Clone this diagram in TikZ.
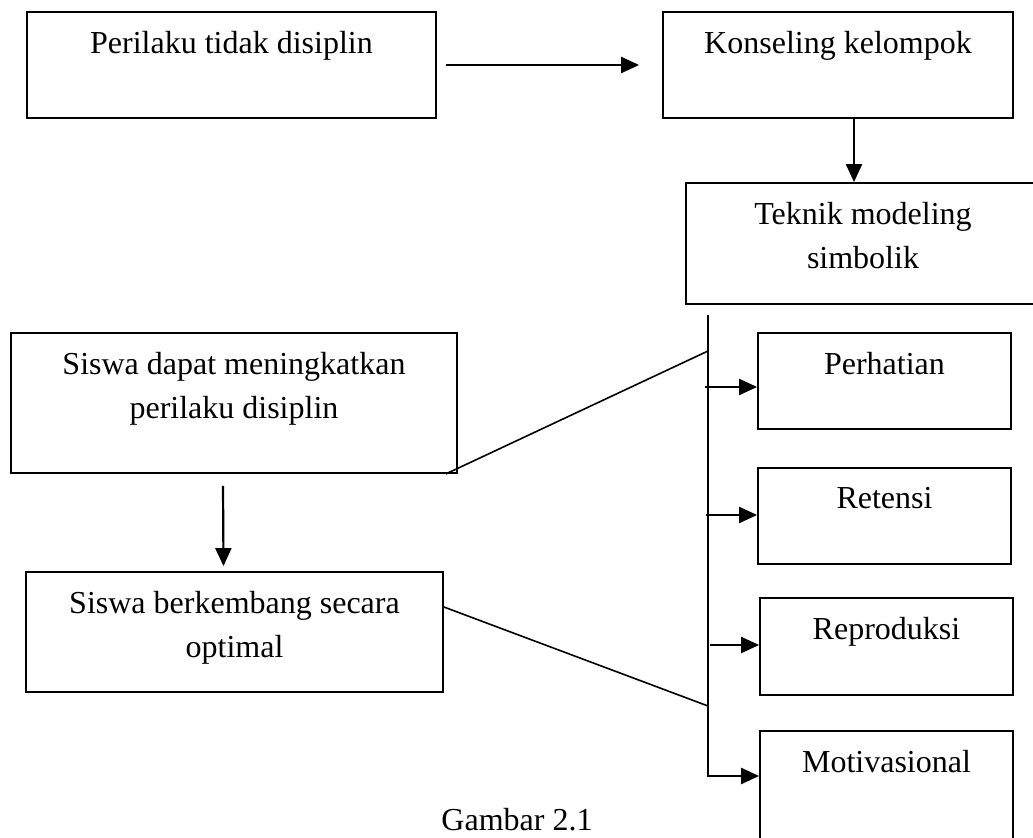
\documentclass[tikz,border=0pt]{standalone}
\usepackage{fontspec}
\setmainfont{Liberation Serif}
\usetikzlibrary{arrows.meta}

\tikzset{
  kotak/.style={draw, line width=0.9pt, inner sep=0pt},
  isi/.style={anchor=north, yshift=-10pt, align=center, inner sep=0pt,
              font=\fontsize{16}{22}\selectfont},
  garis/.style={line width=0.8pt},
  panah/.style={line width=1.1pt, -{Triangle[length=9pt,width=8pt]}}
}

\begin{document}
\begin{tikzpicture}[x=0.5pt, y=-0.5pt]
    \useasboundingbox (0,0) rectangle (1033,838);

    % Baris atas
    \node[kotak, minimum width=204.5pt, minimum height=53pt,
          label={[isi]north:Perilaku tidak disiplin}] (perilaku) at (231.5,65) {};
    \node[kotak, minimum width=175pt, minimum height=53pt,
          label={[isi]north:Konseling kelompok}] (konseling) at (838,65) {};
    \node[kotak, minimum width=177pt, minimum height=60.5pt,
          label={[isi]north:Teknik modeling\\simbolik}] (teknik) at (863,243.5) {};
    \draw[panah] ([xshift=4.5pt]perilaku.east) -- ([xshift=-11.5pt]konseling.west);
    \draw[panah] ([xshift=8pt]konseling.south) -- ([xshift=8pt]konseling.south |- teknik.north);

    % Kotak kiri
    \node[kotak, minimum width=223pt, minimum height=70pt,
          label={[isi]north:Siswa dapat meningkatkan\\perilaku disiplin}] (meningkat) at (234,403) {};
    \node[kotak, minimum width=208.5pt, minimum height=60pt,
          label={[isi]north:Siswa berkembang secara\\optimal}] (berkembang) at (234.5,632) {};
    \draw[panah] ([xshift=-5.5pt,yshift=-6pt]meningkat.south) -- ([xshift=-5.5pt,yshift=2.5pt]berkembang.north);

    % Kotak kanan (komponen modeling)
    \node[kotak, minimum width=126.5pt, minimum height=48pt,
          label={[isi]north:Perhatian}] (perhatian) at (884.5,381) {};
    \node[kotak, minimum width=126.5pt, minimum height=48pt,
          label={[isi]north:Retensi}] (retensi) at (884.5,516) {};
    \node[kotak, minimum width=126.5pt, minimum height=48.5pt,
          label={[isi]north:Reproduksi}] (reproduksi) at (886.5,646.5) {};
    \node[kotak, minimum width=126.5pt, minimum height=59.5pt,
          label={[isi]north:Motivasional}] (motivasi) at (886.5,790.5) {};

    % Garis cabang
    \coordinate (atas) at (708,315);
    \coordinate (bawah) at (708,776);
    \coordinate (j1) at (708,351);
    \coordinate (j2) at (708,706);
    \coordinate (t1) at (705,387);
    \coordinate (t2) at (706,515);
    \coordinate (t3) at (710,645);
    \draw[panah] (atas) -- (bawah) -- (bawah -| motivasi.west);
    \draw[panah] (t1) -- (t1 -| perhatian.west);
    \draw[panah] (t2) -- (t2 -| retensi.west);
    \draw[panah] (t3) -- (t3 -| reproduksi.west);
    \draw[garis] ([xshift=-6pt]meningkat.south east) -- (j1);
    \draw[garis] ([yshift=12.5pt]berkembang.east) -- (j2);

    \node[anchor=base, inner sep=0pt, font=\fontsize{16}{22}\selectfont] (gambar) at (517,830) {Gambar 2.1};
\end{tikzpicture}
\end{document}
